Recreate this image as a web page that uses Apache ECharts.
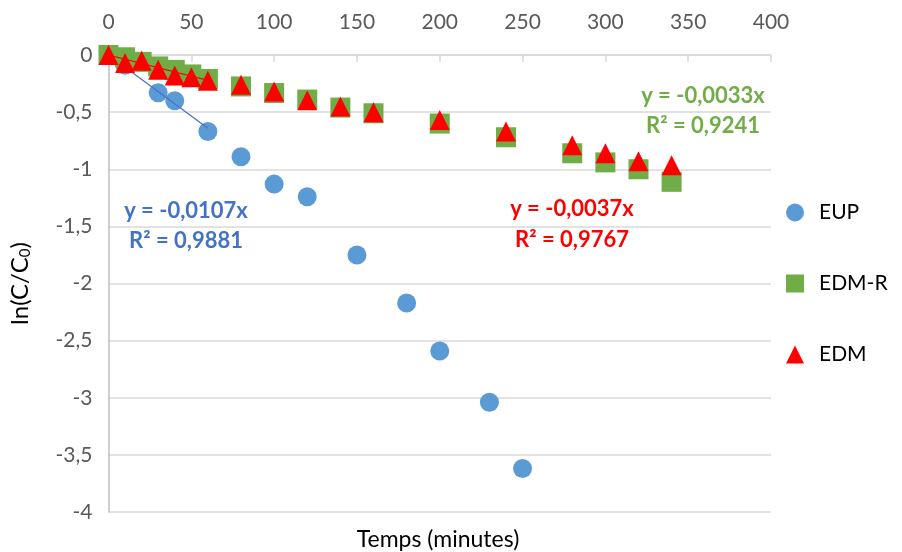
<!DOCTYPE html>
<html>
<head>
<meta charset="utf-8">
<script src="https://cdn.jsdelivr.net/npm/echarts@6/dist/echarts.min.js"></script>
<style>html,body{margin:0;padding:0;background:#fff;}#c{width:902px;height:552px;}</style>
</head>
<body>
<div id="c"></div>
<script>
// Data
const timeEUP = [0, 10, 30, 40, 60, 80, 100, 120, 150, 180, 200, 230, 250];
const valEUP = [0, -0.09, -0.33, -0.40, -0.67, -0.89, -1.13, -1.24, -1.75, -2.17, -2.59, -3.04, -3.62];
const timeEDM = [0, 10, 20, 30, 40, 50, 60, 80, 100, 120, 140, 160, 200, 240, 280, 300, 320, 340];
const valEDMR = [0, -0.02, -0.06, -0.10, -0.13, -0.17, -0.21, -0.275, -0.333, -0.39, -0.46, -0.51, -0.60, -0.72, -0.86, -0.94, -1.00, -1.11];
const valEDM = [0, -0.07, -0.05, -0.13, -0.18, -0.195, -0.225, -0.26, -0.32, -0.395, -0.45, -0.50, -0.57, -0.67, -0.79, -0.86, -0.93, -0.965];
const seriesNames = ['EUP', 'EDM-R', 'EDM'];
const trendSlopes = [-0.0107, -0.0033, -0.0037];
const trendR2 = ['0,9881', '0,9241', '0,9767'];
const trendRange = [0, 60];
const xTicks = [0, 400, 50];
const yTicks = [-4, 0, 0.5];

const colors = ['#5B9BD5', '#70AD47', '#FF0000'];
const trendColors = ['#4472C4', '#70AD47', '#FF0000'];
const FONT = 'Lato';

function pair(xs, ys) { return xs.map((x, i) => [x, ys[i]]); }
function trend(k) { return trendRange.map(x => [x, trendSlopes[k] * x]); }
function eqLine(k) { return 'y = ' + String(trendSlopes[k]).replace('.', ',') + 'x'; }
function r2Line(k) { return 'R² = ' + trendR2[k]; }
function label(text, x, y, color) {
  return {type: 'text', x: x, y: y, style: {text: text, fontSize: 22, fontWeight: 'bold', fontFamily: FONT,
    fill: color, align: 'center', verticalAlign: 'middle'}};
}
// label centres (pixels) for each trendline annotation
const eqPos = [[186, 211, 241], [703, 96, 126], [572, 209, 240]];

const graphics = [
  {type: 'text', x: 438, y: 540, style: {text: 'Temps (minutes)', fontSize: 23, fontFamily: FONT, fill: '#000',
    align: 'center', verticalAlign: 'middle'}}
];
for (let k = 0; k < 3; k++) {
  graphics.push(label(eqLine(k), eqPos[k][0], eqPos[k][1], trendColors[k]));
  graphics.push(label(r2Line(k), eqPos[k][0], eqPos[k][2], trendColors[k]));
}

const chart = echarts.init(document.getElementById('c'), null, {renderer: 'canvas'});
chart.setOption({
  animation: false,
  textStyle: {fontFamily: FONT},
  grid: {left: 106, right: 131, top: 55, bottom: 40, containLabel: false},
  xAxis: {
    type: 'value', position: 'top', min: xTicks[0], max: xTicks[1], interval: xTicks[2],
    axisLine: {onZero: false, lineStyle: {color: '#d9d9d9', width: 1.5}},
    axisTick: {show: true, inside: true, length: 7, lineStyle: {color: '#d9d9d9', width: 1.5}},
    axisLabel: {color: '#595959', fontSize: 21, fontFamily: FONT, margin: 22},
    splitLine: {show: false}
  },
  yAxis: {
    type: 'value', min: yTicks[0], max: yTicks[1], interval: yTicks[2],
    axisLine: {show: true, onZero: false, lineStyle: {color: '#bfbfbf', width: 1.5}},
    axisTick: {show: false},
    axisLabel: {color: '#595959', fontSize: 21, fontFamily: FONT, margin: 16,
      formatter: v => String(v).replace('.', ',')},
    splitLine: {show: true, lineStyle: {color: '#d9d9d9', width: 1.5}},
    name: 'ln(C/C{sub|0})', nameLocation: 'middle', nameGap: 76, nameRotate: 90,
    nameTextStyle: {color: '#000', fontSize: 24, fontFamily: FONT,
      rich: {sub: {fontSize: 15, fontFamily: FONT, color: '#000', verticalAlign: 'bottom', padding: [10, 0, 0, 0]}}}
  },
  legend: {
    data: seriesNames, orient: 'vertical', left: 781, top: 197, itemGap: 50,
    itemWidth: 18, itemHeight: 18,
    textStyle: {fontSize: 21, color: '#000', fontFamily: FONT, padding: [0, 0, 0, 10]}
  },
  series: [
    {name: seriesNames[0], type: 'scatter', symbol: 'circle', symbolSize: 19, data: pair(timeEUP, valEUP),
      itemStyle: {color: colors[0], opacity: 1}, z: 2},
    {name: 'trend0', type: 'line', data: trend(0), symbol: 'none', lineStyle: {color: trendColors[0], width: 1.2}, z: 3},
    {name: seriesNames[1], type: 'scatter', symbol: 'rect', symbolSize: 20, data: pair(timeEDM, valEDMR),
      itemStyle: {color: colors[1], opacity: 1}, z: 4},
    {name: 'trend1', type: 'line', data: trend(1), symbol: 'none', lineStyle: {color: trendColors[1], width: 1.2}, z: 5},
    {name: seriesNames[2], type: 'scatter', symbol: 'triangle', symbolSize: 20, data: pair(timeEDM, valEDM),
      itemStyle: {color: colors[2], opacity: 1}, z: 6},
    {name: 'trend2', type: 'line', data: trend(2), symbol: 'none', lineStyle: {color: trendColors[2], width: 1.2}, z: 7}
  ],
  graphic: graphics
});
</script>
</body>
</html>
